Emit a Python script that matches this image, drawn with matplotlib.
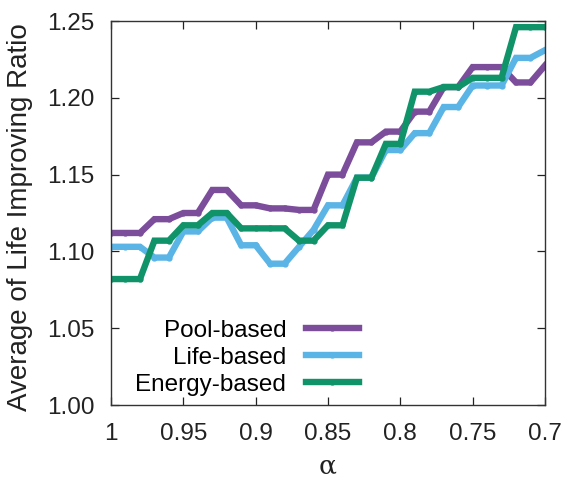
import numpy as np
import matplotlib
matplotlib.use('Agg')
import matplotlib.pyplot as plt

plt.rcParams['font.family'] = ['Liberation Sans', 'DejaVu Sans']

# alpha swept from 1.00 down to 0.70
alpha = np.round(np.arange(100, 69, -1) / 100.0, 2)

pool_based = [1.112, 1.112, 1.112, 1.121, 1.121, 1.125, 1.125, 1.140, 1.140, 1.130,
              1.130, 1.128, 1.128, 1.127, 1.127, 1.150, 1.150, 1.171, 1.171, 1.178,
              1.178, 1.191, 1.191, 1.207, 1.207, 1.220, 1.220, 1.220, 1.210, 1.210,
              1.221]
life_based = [1.103, 1.103, 1.103, 1.096, 1.096, 1.113, 1.113, 1.122, 1.122, 1.104,
              1.104, 1.092, 1.092, 1.103, 1.114, 1.130, 1.130, 1.148, 1.148, 1.166,
              1.166, 1.177, 1.177, 1.194, 1.194, 1.208, 1.208, 1.208, 1.226, 1.226,
              1.231]
energy_based = [1.082, 1.082, 1.082, 1.107, 1.107, 1.117, 1.117, 1.125, 1.125, 1.115,
                1.115, 1.115, 1.115, 1.107, 1.107, 1.117, 1.117, 1.148, 1.148, 1.170,
                1.170, 1.204, 1.204, 1.207, 1.207, 1.213, 1.213, 1.213, 1.246, 1.246,
                1.246]

xticks = [1, 0.95, 0.9, 0.85, 0.8, 0.75, 0.7]
xtick_labels = ['1', '0.95', '0.9', '0.85', '0.8', '0.75', '0.7']
yticks = [1.00, 1.05, 1.10, 1.15, 1.20, 1.25]

series = [
    ('Pool-based', pool_based, '#7b4d9b'),
    ('Life-based', life_based, '#5ab4e5'),
    ('Energy-based', energy_based, '#11936a'),
]

fig = plt.figure(figsize=(5.65, 4.84), dpi=100)
ax = fig.add_axes([0.1965, 0.1632, 0.768, 0.7934])

for name, vals, col in series:
    ax.plot(alpha, vals, color=col, lw=4.6, marker='o', ms=3.5,
            mfc=col, mec=col, label=name, solid_joinstyle='miter')

ax.set_xlim(1.0, 0.7)
ax.set_ylim(1.0, 1.25)
ax.set_xticks(xticks)
ax.set_xticklabels(xtick_labels)
ax.set_yticks(yticks)
ax.set_yticklabels(['%.2f' % v for v in yticks])

ax.tick_params(direction='in', length=6, width=0.9, top=True, right=True,
               labelsize=17.5, colors='#222222')
ax.tick_params(axis='x', pad=13)
ax.tick_params(axis='y', pad=12)
for sp in ax.spines.values():
    sp.set_linewidth(1.0)
    sp.set_color('#333333')

ax.set_ylabel('Average of Life Improving Ratio', fontsize=20, color='#222222')
ax.yaxis.set_label_coords(-0.18, 0.49)
ax.set_xlabel('α', fontsize=19, family=['DejaVu Serif'], color='#222222', labelpad=6)

leg = ax.legend(loc='lower right', bbox_to_anchor=(0.611, -0.02), frameon=False,
                markerfirst=False, fontsize=17.5, handlelength=2.2, numpoints=1,
                labelspacing=0.2, handletextpad=0.8, borderpad=0.2)

fig.savefig('out.png', dpi=100)
